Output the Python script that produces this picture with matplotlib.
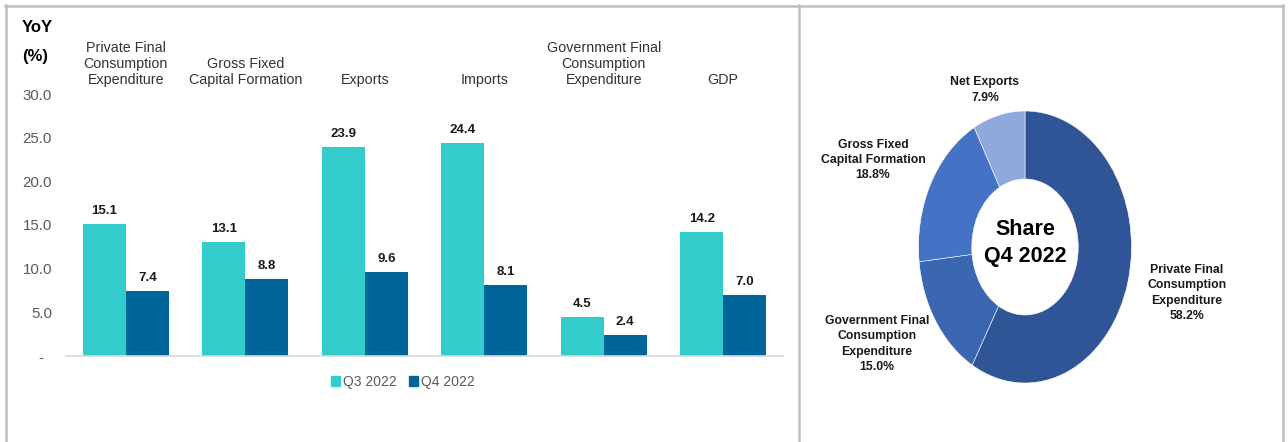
import numpy as np
import matplotlib
matplotlib.use("Agg")
import matplotlib.pyplot as plt
from matplotlib.lines import Line2D
from matplotlib.patches import Patch
import matplotlib.font_manager as fm

plt.rcParams['font.family'] = ['Liberation Sans', 'DejaVu Sans']

# data
categories = ["Private Final\nConsumption\nExpenditure", "Gross Fixed\nCapital Formation",
              "Exports", "Imports", "Government Final\nConsumption\nExpenditure", "GDP"]
q3_2022 = [15.1, 13.1, 23.9, 24.4, 4.5, 14.2]
q4_2022 = [7.4, 8.8, 9.6, 8.1, 2.4, 7.0]
series_names = ["Q3 2022", "Q4 2022"]
yticks = [0, 5, 10, 15, 20, 25, 30]
ytick_labels = ["-  ", "5.0", "10.0", "15.0", "20.0", "25.0", "30.0"]

share_labels = ["Private Final\nConsumption\nExpenditure", "Government Final\nConsumption\nExpenditure",
                "Gross Fixed\nCapital Formation", "Net Exports"]
share_values = [58.2, 15.0, 18.8, 7.9]

teal = "#33CCCC"
navy = "#006699"
donut_colors = ["#2F5597", "#3A66B2", "#4472C4", "#8EA9DB"]
gray_border = "#BFBFBF"

names = {f.name for f in fm.fontManager.ttflist}
narrow = 'Liberation Sans Narrow' if 'Liberation Sans Narrow' in names else 'Liberation Sans'

W, H = 1288, 442
fig = plt.figure(figsize=(W / 100, H / 100), dpi=100)

# ---------------- bar chart ----------------
ax = fig.add_axes([66 / W, 1 - 356 / H, (783 - 66) / W, (356 - 94) / H])
x = np.arange(len(categories))
bw = 0.36
b1 = ax.bar(x - bw / 2, q3_2022, bw, color=teal)
b2 = ax.bar(x + bw / 2, q4_2022, bw, color=navy)
for bars, vals in ((b1, q3_2022), (b2, q4_2022)):
    for r, v in zip(bars, vals):
        ax.annotate(f"{v:.1f}", (r.get_x() + r.get_width() / 2, v), xytext=(0, 5),
                    textcoords="offset points", ha="center", va="bottom",
                    fontsize=9.5, fontweight="bold", color="#1a1a1a")
for i, lab in enumerate(categories):
    ax.text(i, 30.75, lab, ha="center", va="bottom", fontsize=10.3, color="#333333",
            linespacing=1.22)

ax.set_xlim(-0.5, len(categories) - 0.5)
ax.set_ylim(0, 30)
ax.set_yticks(yticks)
ax.set_yticklabels(ytick_labels, fontsize=10.8, color="#595959")
ax.set_xticks([])
ax.tick_params(axis="y", length=0, pad=10)
for s in ("top", "right", "left"):
    ax.spines[s].set_visible(False)
ax.spines["bottom"].set_color("#D9D9D9")
ax.spines["bottom"].set_linewidth(1.2)

fig.text(22 / W, 1 - 28 / H, "YoY", fontsize=12, fontweight="bold", va="center", ha="left")
fig.text(22 / W, 1 - 57 / H, "(%)", fontsize=12, fontweight="bold", va="center", ha="left")

handles = [Patch(color=teal), Patch(color=navy)]
fig.legend(handles, series_names, loc="center", bbox_to_anchor=(403 / W, 1 - 382 / H),
           ncol=2, frameon=False, handlelength=0.6, handleheight=0.8, handletextpad=0.25,
           columnspacing=0.9, fontsize=10, labelcolor="#595959")

# ---------------- donut ----------------
cx, cy, rx, ry = 1025, 247, 106.5, 136
ax2 = fig.add_axes([(cx - rx) / W, 1 - (cy + ry) / H, 2 * rx / W, 2 * ry / H])
ax2.pie(share_values, colors=donut_colors, startangle=90, counterclock=False,
        radius=1, wedgeprops=dict(width=0.5, edgecolor="white", linewidth=0.4))
ax2.set_aspect("auto")
ax2.set_xlim(-1, 1)
ax2.set_ylim(-1, 1)
ax2.text(0, 0.03, "Share\nQ4 2022", ha="center", va="center", fontsize=15.5,
         fontweight="bold", family=narrow, linespacing=1.35)

label_px = [(1187, 293), (877, 344), (873, 160), (985, 90)]
for (px, py), lab, v in zip(label_px, share_labels, share_values):
    fig.text(px / W, 1 - py / H, f"{lab}\n{v:.1f}%", ha="center", va="center",
             fontsize=8.8, fontweight="bold", family=narrow, linespacing=1.35, color="#1a1a1a")

# ---------------- frame lines ----------------
lw = 1.8
fig.add_artist(Line2D([5 / W, 1283 / W], [1 - 5.5 / H, 1 - 5.5 / H], color=gray_border, lw=lw))
fig.add_artist(Line2D([5.5 / W, 5.5 / W], [0, 1 - 5 / H], color=gray_border, lw=lw))
fig.add_artist(Line2D([1282.5 / W, 1282.5 / W], [0, 1 - 5 / H], color=gray_border, lw=lw))
fig.add_artist(Line2D([799 / W, 799 / W], [0, 1 - 5 / H], color=gray_border, lw=lw))

fig.savefig("out.png", dpi=100)
